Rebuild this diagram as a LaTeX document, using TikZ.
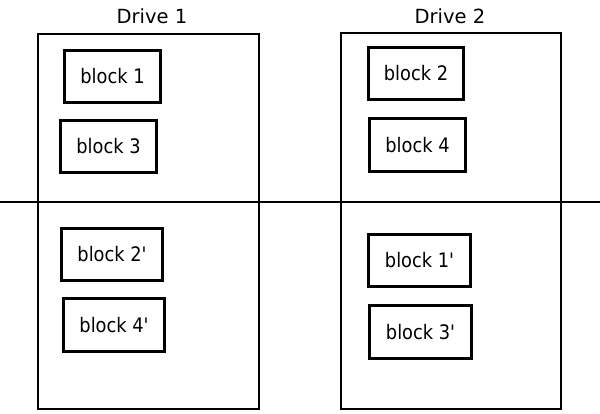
\documentclass[tikz,border=0pt]{standalone}
\usepackage{fontspec}
\setmainfont{DejaVu Sans}
\newfontfamily\blockfont[FakeStretch=0.89]{DejaVu Sans}
\begin{document}
\begin{tikzpicture}[x=1pt,y=-1pt,
  drivebox/.style={draw=black,line width=2pt,rectangle,inner sep=0pt},
  blockbox/.style={draw=black,line width=3pt,rectangle,inner sep=0pt,font=\blockfont\fontsize{20}{24}\selectfont},
  title/.style={inner sep=0pt,font=\fontsize{19.5}{23}\selectfont}]
\useasboundingbox (0,0) rectangle (600,413);
\node[drivebox,minimum width=221pt,minimum height=375pt] (d1) at (148.5,221.5) {};
\node[drivebox,minimum width=220pt,minimum height=376pt] (d2) at (451,221) {};
\node[title] (t1) at (152,16) {Drive 1};
\node[title] (t2) at (450,16) {Drive 2};
\coordinate (L) at (0,202);
\coordinate (R) at (600,202);
\draw[line width=2.4pt] (L) -- (R);
\node[blockbox,minimum width=96pt,minimum height=52pt] (b1) at (112.5,76.5) {block 1};
\node[blockbox,minimum width=96pt,minimum height=52pt] (b3) at (108.5,146.5) {block 3};
\node[blockbox,minimum width=95pt,minimum height=52pt] (b2) at (416,73.5) {block 2};
\node[blockbox,minimum width=96pt,minimum height=53pt] (b4) at (417.5,145) {block 4};
\node[blockbox,minimum width=101pt,minimum height=52pt] (b2p) at (112,254.5) {block 2'};
\node[blockbox,minimum width=101pt,minimum height=53pt] (b4p) at (114,325) {block 4'};
\node[blockbox,minimum width=102pt,minimum height=52pt] (b1p) at (419.5,260.5) {block 1'};
\node[blockbox,minimum width=102pt,minimum height=53pt] (b3p) at (420.5,332) {block 3'};
\end{tikzpicture}
\end{document}
